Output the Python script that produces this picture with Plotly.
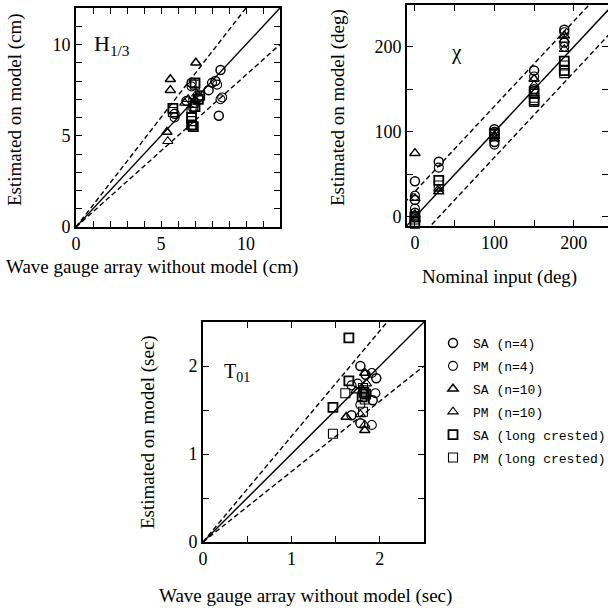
import plotly.graph_objects as go

# ---------------- data ----------------
group_names = ["SA (n=4)", "PM (n=4)", "SA (n=10)", "PM (n=10)",
               "SA (long crested)", "PM (long crested)"]
group_symbols = ["circle-open", "circle-open", "triangle-up-open", "triangle-up-open",
                 "square-open", "square-open"]

# H1/3 panel (cm)
h_sa4_x = [5.8, 6.8, 7.2, 7.8, 8.2, 8.5, 8.4, 6.5]
h_sa4_y = [6.2, 7.9, 7.1, 7.5, 8.0, 8.6, 6.1, 6.9]
h_pm4_x = [5.8, 6.8, 7.3, 8.0, 8.3, 8.5, 8.6, 7.0, 6.9]
h_pm4_y = [6.0, 7.7, 7.2, 7.9, 7.8, 7.0, 7.1, 6.8, 6.5]
h_sa10_x = [5.55, 5.55, 7.05, 5.35]
h_sa10_y = [8.1, 7.5, 9.0, 5.2]
h_pm10_x = [5.4, 6.6, 6.4, 7.1]
h_pm10_y = [4.7, 7.0, 6.8, 7.3]
h_salc_x = [5.7, 7.0, 6.8, 6.8, 6.9, 7.0, 7.2]
h_salc_y = [6.5, 7.9, 6.0, 5.6, 5.5, 6.6, 7.0]
h_pmlc_x = [5.7, 7.0, 6.8, 6.8, 7.3, 6.9]
h_pmlc_y = [6.3, 7.8, 5.8, 6.3, 7.2, 6.8]

# chi panel (deg)
c_sa4_x = [0, 0, 0, 30, 100, 100, 150, 150, 188, 188]
c_sa4_y = [42, 20, 5, 65, 103, 88, 172, 150, 220, 205]
c_pm4_x = [0, 0, 0, 30, 100, 100, 150, 150, 188, 188]
c_pm4_y = [25, 10, 0, 58, 100, 85, 165, 148, 217, 200]
c_sa10_x = [0, 0, 30, 100, 150, 188]
c_sa10_y = [75, 3, 30, 95, 162, 213]
c_pm10_x = [0, 0, 30, 100, 150, 188, 188]
c_pm10_y = [22, -2, 33, 92, 155, 208, 197]
c_salc_x = [0, 0, 30, 100, 150, 150, 188, 188]
c_salc_y = [0, -6, 43, 98, 145, 137, 183, 172]
c_pmlc_x = [0, 0, 30, 100, 150, 150, 188, 188]
c_pmlc_y = [-3, -8, 37, 96, 140, 135, 178, 169]

# T01 panel (sec)
t_sa4_x = [1.78, 1.96, 1.92, 1.68, 1.78, 1.84]
t_sa4_y = [2.00, 1.86, 1.61, 1.44, 1.35, 1.90]
t_pm4_x = [1.91, 1.68, 1.95, 1.78, 1.91, 1.75]
t_pm4_y = [1.92, 1.78, 1.69, 1.56, 1.33, 1.80]
t_sa10_x = [1.62, 1.83, 1.81, 1.83]
t_sa10_y = [1.42, 1.27, 1.72, 1.92]
t_pm10_x = [1.83, 1.73, 1.78, 1.85]
t_pm10_y = [1.33, 1.72, 1.45, 1.80]
t_salc_x = [1.65, 1.65, 1.47, 1.80, 1.82, 1.84]
t_salc_y = [2.32, 1.83, 1.53, 1.65, 1.70, 1.68]
t_pmlc_x = [1.61, 1.47, 1.81, 1.83, 1.81]
t_pmlc_y = [1.69, 1.23, 1.48, 1.62, 1.75]

# reference-line parameters
h_ratio_hi, h_ratio_lo = 1.2, 1 / 1.2
c_offset = 30
t_ratio_hi, t_ratio_lo = 1.2, 0.8

# axis ticks
h_ticks = list(range(0, 13))
h_labels = ["0", "", "", "", "", "5", "", "", "", "", "10", "", ""]
c_ticks = [0, 50, 100, 150, 200, 250]
c_labels = ["0", "", "100", "", "200", ""]
t_ticks = [0, 0.5, 1, 1.5, 2, 2.5]
t_labels = ["0", "", "1", "", "2", ""]

# ---------------- figure ----------------
FONT = "Liberation Serif"
fig = go.Figure()

panels = [
    ("x", "y", [(h_sa4_x, h_sa4_y), (h_pm4_x, h_pm4_y), (h_sa10_x, h_sa10_y),
                (h_pm10_x, h_pm10_y), (h_salc_x, h_salc_y), (h_pmlc_x, h_pmlc_y)], False),
    ("x2", "y2", [(c_sa4_x, c_sa4_y), (c_pm4_x, c_pm4_y), (c_sa10_x, c_sa10_y),
                  (c_pm10_x, c_pm10_y), (c_salc_x, c_salc_y), (c_pmlc_x, c_pmlc_y)], False),
    ("x3", "y3", [(t_sa4_x, t_sa4_y), (t_pm4_x, t_pm4_y), (t_sa10_x, t_sa10_y),
                  (t_pm10_x, t_pm10_y), (t_salc_x, t_salc_y), (t_pmlc_x, t_pmlc_y)], True),
]

line_w = 1.4
dash = "5px,3px"

def add_line(xs, ys, xa, ya, d="solid"):
    fig.add_trace(go.Scatter(x=xs, y=ys, mode="lines", xaxis=xa, yaxis=ya,
                             line=dict(color="black", width=line_w, dash=d),
                             showlegend=False, hoverinfo="skip"))

# reference lines
hx = [0, 12]
add_line(hx, hx, "x", "y")
add_line(hx, [v * h_ratio_hi for v in hx], "x", "y", dash)
add_line(hx, [v * h_ratio_lo for v in hx], "x", "y", dash)
cx = [-20, 260]
add_line(cx, cx, "x2", "y2")
add_line(cx, [v + c_offset for v in cx], "x2", "y2", dash)
add_line(cx, [v - c_offset for v in cx], "x2", "y2", dash)
tx = [0, 2.5]
add_line(tx, tx, "x3", "y3")
add_line(tx, [v * t_ratio_hi for v in tx], "x3", "y3", dash)
add_line(tx, [v * t_ratio_lo for v in tx], "x3", "y3", dash)

mk_widths = [1.5, 1.1, 1.5, 1.1, 1.8, 1.1]
for xa, ya, series, show in panels:
    for i, (xs, ys) in enumerate(series):
        fig.add_trace(go.Scatter(
            x=xs, y=ys, mode="markers", xaxis=xa, yaxis=ya,
            name=group_names[i], legendgroup=group_names[i], showlegend=show,
            marker=dict(symbol=group_symbols[i], size=9, color="black",
                        line=dict(color="black", width=mk_widths[i])),
            cliponaxis=False))

def ax(domain, rng, tv, tt, anchor):
    return dict(domain=domain, range=rng, anchor=anchor, automargin=False,
                tickmode="array", tickvals=tv, ticktext=tt,
                showline=True, linecolor="black", linewidth=1.6, mirror="ticks",
                ticks="inside", ticklen=6, tickwidth=1.3, tickcolor="black",
                showgrid=False, zeroline=False,
                tickfont=dict(family=FONT, size=18, color="black"))

W, H = 608, 610
def px(a, b):  # horizontal pixel span -> paper domain
    return [a / W, b / W]
def py(top, bot):  # vertical pixel span -> paper domain
    return [1 - bot / H, 1 - top / H]

fig.update_layout(
    width=W, height=H, margin=dict(l=0, r=0, t=0, b=0, pad=0, autoexpand=False),
    paper_bgcolor="white", plot_bgcolor="white",
    font=dict(family=FONT, size=18, color="black"),
    xaxis=ax(px(76, 280), [0, 12], h_ticks, h_labels, "y"),
    yaxis=ax(py(8, 227), [0, 12], h_ticks, h_labels, "x"),
    xaxis2=ax(px(407, 608), [-10, 243], c_ticks, c_labels, "y2"),
    yaxis2=ax(py(5, 226), [-10.6, 249], c_ticks, c_labels, "x2"),
    xaxis3=ax(px(203, 424), [0, 2.5], t_ticks, t_labels, "y3"),
    yaxis3=ax(py(322, 542), [0, 2.5], t_ticks, t_labels, "x3"),
    showlegend=True,
    legend=dict(x=433 / W, y=1 - 328 / H, xanchor="left", yanchor="top",
                font=dict(family="Liberation Mono", size=13, color="black"),
                bgcolor="rgba(0,0,0,0)", borderwidth=0,
                traceorder="grouped", tracegroupgap=3, itemwidth=30),
)

def ann(text, x, y, size=19, angle=0, xanchor="center"):
    fig.add_annotation(text=text, x=x / W, y=1 - y / H, xref="paper", yref="paper",
                       showarrow=False, textangle=angle, xanchor=xanchor, yanchor="middle",
                       font=dict(family=FONT, size=size, color="black"))

ann("Estimated on model (cm)", 15, 110, angle=-90)
ann("Wave gauge array without model (cm)", 152, 267)
ann("Estimated on model (deg)", 338, 108, angle=-90)
ann("Nominal input (deg)", 500, 277)
ann("Estimated on model (sec)", 148, 432, angle=-90)
ann("Wave gauge array without model (sec)", 305, 596)
ann("H<sub>1/3</sub>", 92, 45, size=22, xanchor="left")
ann("χ", 449, 52, size=21, xanchor="left")
ann("T<sub>01</sub>", 222, 372, size=20, xanchor="left")

fig.write_html("out.html", config={"displayModeBar": False},
               post_script="document.body.style.margin='0';document.body.style.padding='0';")
